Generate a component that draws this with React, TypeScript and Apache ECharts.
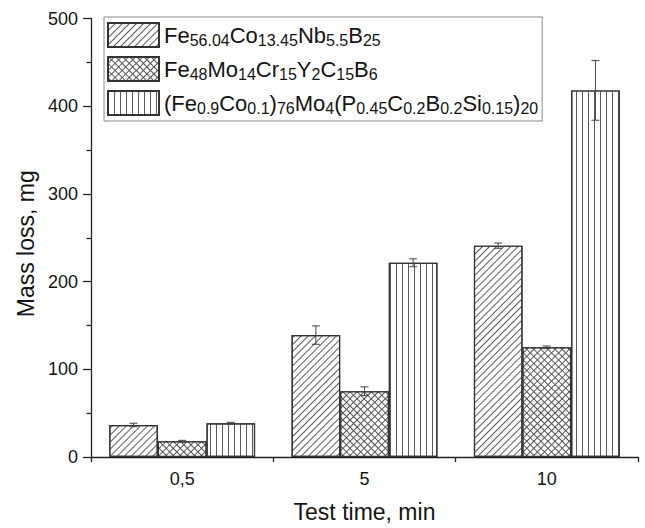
import React, { useEffect, useRef } from 'react';
import * as echarts from 'echarts';

const categories = ['0,5', '5', '10'];
const seriesNames = [
  'Fe56.04Co13.45Nb5.5B25',
  'Fe48Mo14Cr15Y2C15B6',
  '(Fe0.9Co0.1)76Mo4(P0.45C0.2B0.2Si0.15)20',
];
// legend formulas as [base, subscript] pairs
const formulaA: [string, string][] = [['Fe', '56.04'], ['Co', '13.45'], ['Nb', '5.5'], ['B', '25']];
const formulaB: [string, string][] = [['Fe', '48'], ['Mo', '14'], ['Cr', '15'], ['Y', '2'], ['C', '15'], ['B', '6']];
const formulaC: [string, string][] = [
  ['(Fe', '0.9'], ['Co', '0.1'], [')', '76'], ['Mo', '4'], ['(P', '0.45'], ['C', '0.2'], ['B', '0.2'], ['Si', '0.15'], [')', '20'],
];
const valuesA = [36.5, 139, 241];
const errorsA = [2, 10.5, 3];
const valuesB = [18, 75, 125];
const errorsB = [1, 5, 1.5];
const valuesC = [38.5, 221.5, 418];
const errorsC = [1, 4.5, 34];
const yTicks = { min: 0, max: 500, interval: 100 };

const FONT = '"Liberation Sans", Arial, Helvetica, sans-serif';
const INK = '#141414';

function richOf(parts: [string, string][]) {
  return parts.map(([b, s]) => `{n|${b}}{s|${s}}`).join('');
}

export default function App() {
  const ref = useRef<HTMLDivElement>(null);
  useEffect(() => {
    if (!ref.current) return;
    const chart = echarts.init(ref.current, undefined, { renderer: 'svg' });
    const formulas = [formulaA, formulaB, formulaC];
    const values = [valuesA, valuesB, valuesC];
    const errors = [errorsA, errorsB, errorsC];
    const decals: any[] = [
      { symbol: 'rect', symbolSize: 1, dashArrayX: [1, 0], dashArrayY: [1, 4], rotation: -Math.PI / 4, color: '#5a5a5a' },
      { symbol: 'rect', symbolSize: 1, dashArrayX: [4, 1], dashArrayY: [4, 1], rotation: Math.PI / 4, color: '#ffffff' },
      { symbol: 'rect', symbolSize: 1, dashArrayX: [1, 5], dashArrayY: [1, 0], color: '#5a5a5a' },
    ];
    const fills = ['#ffffff', '#555555', '#ffffff'];

    const barSeries = seriesNames.map((name, k) => ({
      type: 'bar',
      name,
      data: values[k],
      barGap: '0%',
      barCategoryGap: '20%',
      itemStyle: { color: fills[k], borderColor: '#333', borderWidth: 1.2, decal: decals[k] },
      emphasis: { disabled: true },
      z: 2,
    }));

    const errSeries = seriesNames.map((name, k) => ({
      type: 'custom',
      name: name + ' error',
      xAxisIndex: 0,
      yAxisIndex: 0,
      z: 5,
      silent: true,
      data: values[k].map((v, i) => [i, v + errors[k][i], v - errors[k][i]]),
      renderItem: (params: any, api: any) => {
        const idx = api.value(0);
        const hi = api.coord([idx, api.value(1)]);
        const lo = api.coord([idx, api.value(2)]);
        const band = api.size([1, 0])[0];
        const barW = (band * 0.8) / 3;
        const x = hi[0] + (k - 1) * barW;
        const half = 4;
        const style = { stroke: '#444', lineWidth: 1 };
        return {
          type: 'group',
          children: [
            { type: 'line', shape: { x1: x, y1: hi[1], x2: x, y2: lo[1] }, style },
            { type: 'line', shape: { x1: x - half, y1: hi[1], x2: x + half, y2: hi[1] }, style },
            { type: 'line', shape: { x1: x - half, y1: lo[1], x2: x + half, y2: lo[1] }, style },
          ],
        };
      },
    }));

    const legendMap: Record<string, string> = {};
    seriesNames.forEach((n, k) => (legendMap[n] = richOf(formulas[k])));

    chart.setOption({
      animation: false,
      textStyle: { fontFamily: FONT, color: INK },
      grid: { left: 91, right: 7, top: 18.5, bottom: 70, containLabel: false },
      legend: {
        data: seriesNames,
        orient: 'vertical',
        left: 104,
        top: 17,
        padding: [5, 4, 5, 3],
        itemGap: 8,
        itemWidth: 51,
        itemHeight: 24,
        icon: 'rect',
        borderColor: '#8a8a8a',
        borderWidth: 1,
        selectedMode: false,
        formatter: (name: string) => legendMap[name],
        textStyle: {
          fontFamily: FONT,
          color: INK,
          rich: {
            n: { fontSize: 22, lineHeight: 26, fontFamily: FONT, color: INK },
            s: { fontSize: 16, lineHeight: 11, verticalAlign: 'bottom', fontFamily: FONT, color: INK },
          },
        },
      },
      xAxis: [
        {
          type: 'category',
          data: categories,
          name: 'Test time, min',
          nameLocation: 'middle',
          nameGap: 43,
          nameTextStyle: { fontSize: 23, color: INK, fontFamily: FONT },
          axisLine: { lineStyle: { color: '#222', width: 1.3 } },
          axisTick: { alignWithLabel: true, length: 8, lineStyle: { color: '#222', width: 1.3 } },
          axisLabel: { fontSize: 18, color: INK, margin: 13, fontFamily: FONT },
        },
        {
          type: 'category',
          data: categories,
          position: 'bottom',
          axisLine: { show: false },
          axisLabel: { show: false },
          axisTick: { show: true, length: 5, lineStyle: { color: '#222', width: 1.3 } },
        },
      ],
      yAxis: {
        type: 'value',
        min: yTicks.min,
        max: yTicks.max,
        interval: yTicks.interval,
        name: 'Mass loss, mg',
        nameLocation: 'middle',
        nameGap: 50,
        nameTextStyle: { fontSize: 23, color: INK, fontFamily: FONT, padding: [0, 12, 0, 0] },
        axisLine: { show: true, lineStyle: { color: '#222', width: 1.3 } },
        axisTick: { show: true, length: 8, lineStyle: { color: '#222', width: 1.3 } },
        minorTick: { show: true, splitNumber: 2, length: 4.5, lineStyle: { color: '#222', width: 1.3 } },
        splitLine: { show: false },
        axisLabel: { fontSize: 18, color: INK, margin: 13, fontFamily: FONT },
      },
      series: [...barSeries, ...errSeries],
    });
    return () => chart.dispose();
  }, []);
  return <div ref={ref} style={{ position: 'absolute', left: 0, top: 0, width: 645, height: 528 }} />;
}
